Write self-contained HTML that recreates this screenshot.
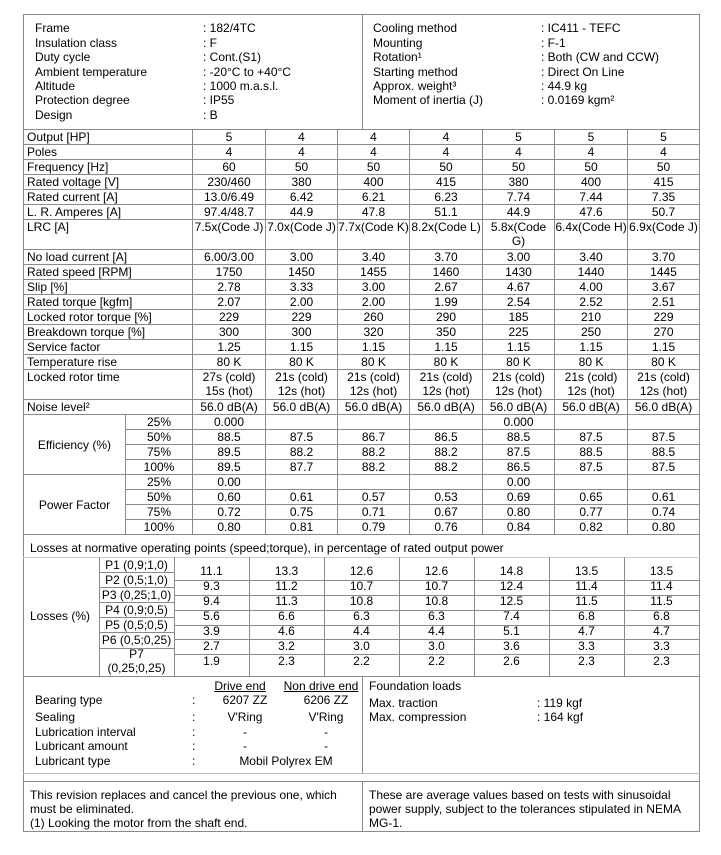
<!DOCTYPE html>
<html><head><meta charset="utf-8"><style>
*{margin:0;padding:0;box-sizing:border-box}
body{width:721px;height:855px;background:#fff;position:relative;font-family:"Liberation Sans",Arial,sans-serif;font-size:12px;color:#000;overflow:hidden}
.t{position:absolute;white-space:nowrap;line-height:14px}
.c{position:absolute;text-align:center;white-space:nowrap;line-height:14px}
.lv{line-height:15px}
.h{position:absolute;height:1px;background:#8a8a8a}
.v{position:absolute;width:1px;background:#8a8a8a}
table{position:absolute;left:23px;top:129px;width:676px;border-collapse:collapse;table-layout:fixed}
td{border:1px solid #8a8a8a;text-align:center;vertical-align:top;line-height:14px;height:15px;padding:0;white-space:nowrap;overflow:hidden}
td.l{text-align:left;padding-left:3px}
td.m{vertical-align:middle}
tr.d td{height:30px}
</style></head><body>
<div class="h" style="left:23px;top:14px;width:677px"></div>
<div class="v" style="left:23px;top:14px;height:818px"></div>
<div class="v" style="left:699px;top:14px;height:818px"></div>
<div class="v" style="left:362px;top:14px;height:115px"></div>
<div class="t" style="left:35px;top:21px">Frame</div><div class="t" style="left:203px;top:21px">: 182/4TC</div>
<div class="t" style="left:35px;top:36px">Insulation class</div><div class="t" style="left:203px;top:36px">: F</div>
<div class="t" style="left:35px;top:50px">Duty cycle</div><div class="t" style="left:203px;top:50px">: Cont.(S1)</div>
<div class="t" style="left:35px;top:65px">Ambient temperature</div><div class="t" style="left:203px;top:65px">: -20°C to +40°C</div>
<div class="t" style="left:35px;top:79px">Altitude</div><div class="t" style="left:203px;top:79px">: 1000 m.a.s.l.</div>
<div class="t" style="left:35px;top:93px">Protection degree</div><div class="t" style="left:203px;top:93px">: IP55</div>
<div class="t" style="left:35px;top:108px">Design</div><div class="t" style="left:203px;top:108px">: B</div>
<div class="t" style="left:373px;top:21px">Cooling method</div><div class="t" style="left:541px;top:21px">: IC411 - TEFC</div>
<div class="t" style="left:373px;top:36px">Mounting</div><div class="t" style="left:541px;top:36px">: F-1</div>
<div class="t" style="left:373px;top:50px">Rotation¹</div><div class="t" style="left:541px;top:50px">: Both (CW and CCW)</div>
<div class="t" style="left:373px;top:65px">Starting method</div><div class="t" style="left:541px;top:65px">: Direct On Line</div>
<div class="t" style="left:373px;top:79px">Approx. weight³</div><div class="t" style="left:541px;top:79px">: 44.9 kg</div>
<div class="t" style="left:373px;top:93px">Moment of inertia (J)</div><div class="t" style="left:541px;top:93px">: 0.0169 kgm²</div>

<table>
<colgroup><col style="width:102px"><col style="width:67px"><col style="width:73px"><col style="width:72px"><col style="width:72px"><col style="width:73px"><col style="width:72px"><col style="width:73px"><col style="width:72px"></colgroup>
<tr><td class="l" colspan="2">Output [HP]</td><td>5</td><td>4</td><td>4</td><td>4</td><td>5</td><td>5</td><td>5</td></tr>
<tr><td class="l" colspan="2">Poles</td><td>4</td><td>4</td><td>4</td><td>4</td><td>4</td><td>4</td><td>4</td></tr>
<tr><td class="l" colspan="2">Frequency [Hz]</td><td>60</td><td>50</td><td>50</td><td>50</td><td>50</td><td>50</td><td>50</td></tr>
<tr><td class="l" colspan="2">Rated voltage [V]</td><td>230/460</td><td>380</td><td>400</td><td>415</td><td>380</td><td>400</td><td>415</td></tr>
<tr><td class="l" colspan="2">Rated current [A]</td><td>13.0/6.49</td><td>6.42</td><td>6.21</td><td>6.23</td><td>7.74</td><td>7.44</td><td>7.35</td></tr>
<tr><td class="l" colspan="2">L. R. Amperes [A]</td><td>97.4/48.7</td><td>44.9</td><td>47.8</td><td>51.1</td><td>44.9</td><td>47.6</td><td>50.7</td></tr>
<tr class="d"><td class="l" colspan="2">LRC [A]</td><td>7.5x(Code J)</td><td>7.0x(Code J)</td><td>7.7x(Code K)</td><td>8.2x(Code L)</td><td>5.8x(Code<br>G)</td><td>6.4x(Code H)</td><td>6.9x(Code J)</td></tr>
<tr><td class="l" colspan="2">No load current [A]</td><td>6.00/3.00</td><td>3.00</td><td>3.40</td><td>3.70</td><td>3.00</td><td>3.40</td><td>3.70</td></tr>
<tr><td class="l" colspan="2">Rated speed [RPM]</td><td>1750</td><td>1450</td><td>1455</td><td>1460</td><td>1430</td><td>1440</td><td>1445</td></tr>
<tr><td class="l" colspan="2">Slip [%]</td><td>2.78</td><td>3.33</td><td>3.00</td><td>2.67</td><td>4.67</td><td>4.00</td><td>3.67</td></tr>
<tr><td class="l" colspan="2">Rated torque [kgfm]</td><td>2.07</td><td>2.00</td><td>2.00</td><td>1.99</td><td>2.54</td><td>2.52</td><td>2.51</td></tr>
<tr><td class="l" colspan="2">Locked rotor torque [%]</td><td>229</td><td>229</td><td>260</td><td>290</td><td>185</td><td>210</td><td>229</td></tr>
<tr><td class="l" colspan="2">Breakdown torque [%]</td><td>300</td><td>300</td><td>320</td><td>350</td><td>225</td><td>250</td><td>270</td></tr>
<tr><td class="l" colspan="2">Service factor</td><td>1.25</td><td>1.15</td><td>1.15</td><td>1.15</td><td>1.15</td><td>1.15</td><td>1.15</td></tr>
<tr><td class="l" colspan="2">Temperature rise</td><td>80 K</td><td>80 K</td><td>80 K</td><td>80 K</td><td>80 K</td><td>80 K</td><td>80 K</td></tr>
<tr class="d"><td class="l" colspan="2">Locked rotor time</td><td>27s (cold)<br>15s (hot)</td><td>21s (cold)<br>12s (hot)</td><td>21s (cold)<br>12s (hot)</td><td>21s (cold)<br>12s (hot)</td><td>21s (cold)<br>12s (hot)</td><td>21s (cold)<br>12s (hot)</td><td>21s (cold)<br>12s (hot)</td></tr>
<tr><td class="l" colspan="2">Noise level²</td><td>56.0 dB(A)</td><td>56.0 dB(A)</td><td>56.0 dB(A)</td><td>56.0 dB(A)</td><td>56.0 dB(A)</td><td>56.0 dB(A)</td><td>56.0 dB(A)</td></tr>
<tr><td class="m" rowspan="4">Efficiency (%)</td><td>25%</td><td>0.000</td><td></td><td></td><td></td><td>0.000</td><td></td><td></td></tr>
<tr><td>50%</td><td>88.5</td><td>87.5</td><td>86.7</td><td>86.5</td><td>88.5</td><td>87.5</td><td>87.5</td></tr>
<tr><td>75%</td><td>89.5</td><td>88.2</td><td>88.2</td><td>88.2</td><td>87.5</td><td>88.5</td><td>88.5</td></tr>
<tr><td>100%</td><td>89.5</td><td>87.7</td><td>88.2</td><td>88.2</td><td>86.5</td><td>87.5</td><td>87.5</td></tr>
<tr><td class="m" rowspan="4">Power Factor</td><td>25%</td><td>0.00</td><td></td><td></td><td></td><td>0.00</td><td></td><td></td></tr>
<tr><td>50%</td><td>0.60</td><td>0.61</td><td>0.57</td><td>0.53</td><td>0.69</td><td>0.65</td><td>0.61</td></tr>
<tr><td>75%</td><td>0.72</td><td>0.75</td><td>0.71</td><td>0.67</td><td>0.80</td><td>0.77</td><td>0.74</td></tr>
<tr><td>100%</td><td>0.80</td><td>0.81</td><td>0.79</td><td>0.76</td><td>0.84</td><td>0.82</td><td>0.80</td></tr>
</table>

<div class="t" style="left:30px;top:541px">Losses at normative operating points (speed;torque), in percentage of rated output power</div>
<div class="h" style="left:23px;top:557px;width:677px;background:#ccc"></div>
<div class="v" style="left:99px;top:557px;height:119px"></div>
<div class="v" style="left:174px;top:557px;height:119px"></div>
<div class="v" style="left:249px;top:557px;height:119px"></div>
<div class="v" style="left:324px;top:557px;height:119px"></div>
<div class="v" style="left:399px;top:557px;height:119px"></div>
<div class="v" style="left:474px;top:557px;height:119px"></div>
<div class="v" style="left:549px;top:557px;height:119px"></div>
<div class="v" style="left:624px;top:557px;height:119px"></div>
<div class="h" style="left:99px;top:572px;width:75px"></div>
<div class="h" style="left:99px;top:587px;width:75px"></div>
<div class="h" style="left:99px;top:602px;width:75px"></div>
<div class="h" style="left:99px;top:617px;width:75px"></div>
<div class="h" style="left:99px;top:632px;width:75px"></div>
<div class="h" style="left:99px;top:648px;width:75px"></div>
<div class="h" style="left:174px;top:580px;width:525px"></div>
<div class="h" style="left:174px;top:595px;width:525px"></div>
<div class="h" style="left:174px;top:610px;width:525px"></div>
<div class="h" style="left:174px;top:625px;width:525px"></div>
<div class="h" style="left:174px;top:639px;width:525px"></div>
<div class="h" style="left:174px;top:654px;width:525px"></div>
<div class="h" style="left:23px;top:676px;width:677px"></div>
<div class="t" style="left:30px;top:609px">Losses (%)</div>
<div class="c" style="left:99px;width:75px;top:558px">P1 (0,9;1,0)</div>
<div class="c" style="left:99px;width:75px;top:573px">P2 (0,5;1,0)</div>
<div class="c" style="left:99px;width:75px;top:588px">P3 (0,25;1,0)</div>
<div class="c" style="left:99px;width:75px;top:603px">P4 (0,9;0,5)</div>
<div class="c" style="left:99px;width:75px;top:618px">P5 (0,5;0,5)</div>
<div class="c" style="left:99px;width:75px;top:633px">P6 (0,5;0,25)</div>
<div class="c" style="left:99px;width:75px;top:647px">P7<br>(0,25;0,25)</div>

<div class="c lv" style="left:174px;width:75px;top:564px">11.1<br>9.3<br>9.4<br>5.6<br>3.9<br>2.7<br>1.9</div>
<div class="c lv" style="left:249px;width:75px;top:564px">13.3<br>11.2<br>11.3<br>6.6<br>4.6<br>3.2<br>2.3</div>
<div class="c lv" style="left:324px;width:75px;top:564px">12.6<br>10.7<br>10.8<br>6.3<br>4.4<br>3.0<br>2.2</div>
<div class="c lv" style="left:399px;width:75px;top:564px">12.6<br>10.7<br>10.8<br>6.3<br>4.4<br>3.0<br>2.2</div>
<div class="c lv" style="left:474px;width:75px;top:564px">14.8<br>12.4<br>12.5<br>7.4<br>5.1<br>3.6<br>2.6</div>
<div class="c lv" style="left:549px;width:75px;top:564px">13.5<br>11.4<br>11.5<br>6.8<br>4.7<br>3.3<br>2.3</div>
<div class="c lv" style="left:624px;width:75px;top:564px">13.5<br>11.4<br>11.5<br>6.8<br>4.7<br>3.3<br>2.3</div>

<div class="v" style="left:362px;top:676px;height:97px"></div>
<div class="h" style="left:23px;top:773px;width:677px;background:#bbb"></div>
<div class="h" style="left:23px;top:781px;width:677px"></div>
<div class="c" style="left:205px;width:70px;top:679px;text-decoration:underline">Drive end</div>
<div class="c" style="left:281px;width:80px;top:679px;text-decoration:underline">Non drive end</div>
<div class="t" style="left:35px;top:693px">Bearing type</div><div class="t" style="left:192px;top:693px">:</div>
<div class="c" style="left:205px;width:80px;top:693px">6207 ZZ</div><div class="c" style="left:286px;width:80px;top:693px">6206 ZZ</div>
<div class="t" style="left:35px;top:710px">Sealing</div><div class="t" style="left:192px;top:710px">:</div>
<div class="c" style="left:205px;width:80px;top:710px">V'Ring</div><div class="c" style="left:286px;width:80px;top:710px">V'Ring</div>
<div class="t" style="left:35px;top:725px">Lubrication interval</div><div class="t" style="left:192px;top:725px">:</div>
<div class="c" style="left:205px;width:80px;top:725px">-</div><div class="c" style="left:286px;width:80px;top:725px">-</div>
<div class="t" style="left:35px;top:739px">Lubricant amount</div><div class="t" style="left:192px;top:739px">:</div>
<div class="c" style="left:205px;width:80px;top:739px">-</div><div class="c" style="left:286px;width:80px;top:739px">-</div>
<div class="t" style="left:35px;top:754px">Lubricant type</div><div class="t" style="left:192px;top:754px">:</div>
<div class="c" style="left:226px;width:120px;top:754px">Mobil Polyrex EM</div>
<div class="t" style="left:369px;top:679px">Foundation loads</div>
<div class="t" style="left:369px;top:696px">Max. traction</div><div class="t" style="left:537px;top:696px">: 119 kgf</div>
<div class="t" style="left:369px;top:710px">Max. compression</div><div class="t" style="left:537px;top:710px">: 164 kgf</div>

<div class="v" style="left:362px;top:781px;height:50px"></div>
<div class="h" style="left:23px;top:831px;width:677px"></div>
<div class="t" style="left:30px;top:788px">This revision replaces and cancel the previous one, which<br>must be eliminated.<br>(1) Looking the motor from the shaft end.</div>
<div class="t" style="left:369px;top:788px">These are average values based on tests with sinusoidal<br>power supply, subject to the tolerances stipulated in NEMA<br>MG-1.</div>
</body></html>
